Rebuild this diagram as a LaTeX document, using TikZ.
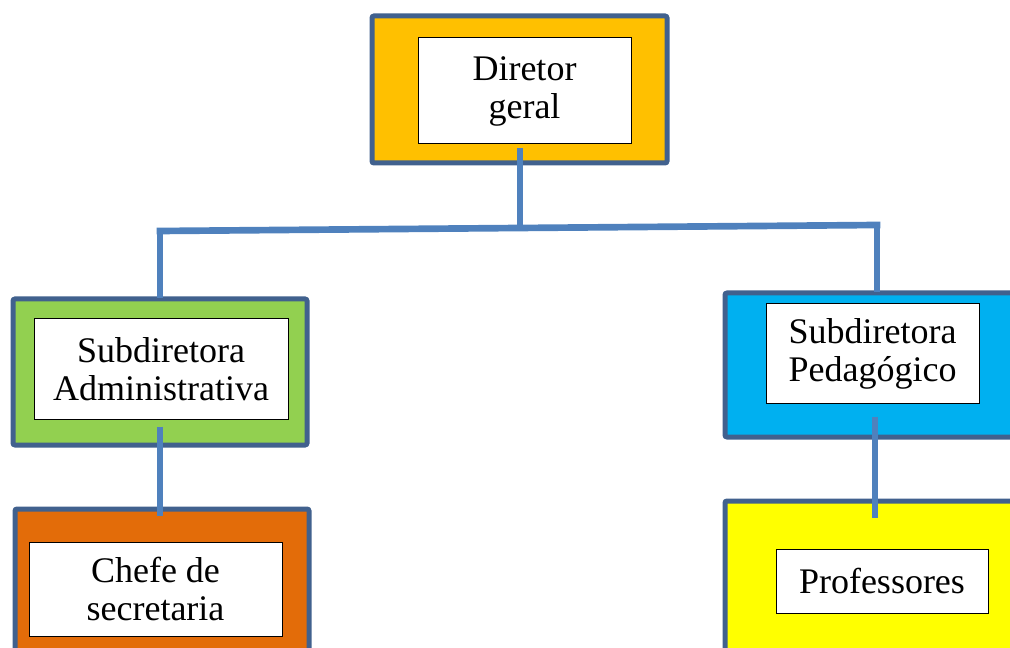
\documentclass[tikz,border=0pt]{standalone}
\usepackage{fontspec}
\setmainfont{Liberation Serif}
\usetikzlibrary{calc}
\definecolor{frame}{HTML}{41618E}
\definecolor{conn}{HTML}{4F81BD}
\definecolor{gold}{HTML}{FFC000}
\definecolor{lgreen}{HTML}{92D050}
\definecolor{orng}{HTML}{E36C09}
\definecolor{sky}{HTML}{00B0F0}
\definecolor{yel}{HTML}{FFFF00}
\tikzset{
  outerbox/.style={draw=frame, line width=3.75pt, rounded corners=1.5pt},
  innerbox/.style={draw=black, fill=white, line width=0.75pt, inner sep=0pt, align=center,
    font=\fontsize{27}{28.5}\selectfont},
  connector/.style={draw=conn, line width=5pt}
}
\begin{document}
\begin{tikzpicture}[x=0.75pt,y=-0.75pt]
\useasboundingbox (0,0) rectangle (1010,648);
\clip (0,0) rectangle (1010,648);
% outer boxes
\path[outerbox, fill=gold]   (372,16) rectangle (667,163);
\path[outerbox, fill=lgreen] (13,299) rectangle (307,445);
\path[outerbox, fill=orng]   (15,509) rectangle (309,670);
\path[outerbox, fill=sky]    (725,293) rectangle (1040,437);
\path[outerbox, fill=yel]    (725,501) rectangle (1040,670);
% inner boxes
\node[innerbox, minimum width=213*0.75pt, minimum height=106*0.75pt] (dir) at (524.5,91) {Diretor\\geral};
\node[innerbox, minimum width=254*0.75pt, minimum height=100*0.75pt] (adm) at (161,369) {Subdiretora\\Administrativa};
\node[innerbox, minimum width=253*0.75pt, minimum height=94*0.75pt] (sec) at (155.5,589) {Chefe de\\secretaria};
\node[innerbox, minimum width=213*0.75pt, minimum height=100*0.75pt] (ped) at (872.5,354) {Subdiretora\\Pedag\'ogico};
\node[innerbox, minimum width=212*0.75pt, minimum height=64*0.75pt] (prof) at (882,581) {Professores};
% bus coordinates
\coordinate (busM) at (520,228);
\coordinate (busL) at (160,231);
\coordinate (busR) at (877,225);
\coordinate (secTop) at (160,516);
\coordinate (profTop) at (875,518);
% connectors
\draw[connector] ($(dir.south)+(-4.5,4)$) -- (busM);
\draw[connector, line cap=rect] (busL) -- (busR);
\draw[connector] (busL) -- (160,298);
\draw[connector] (busR) -- (877,292);
\draw[connector] ($(adm.south)+(-1,7)$) -- (secTop);
\draw[connector] ($(ped.south)+(2.5,12)$) -- (profTop);
\end{tikzpicture}
\end{document}
